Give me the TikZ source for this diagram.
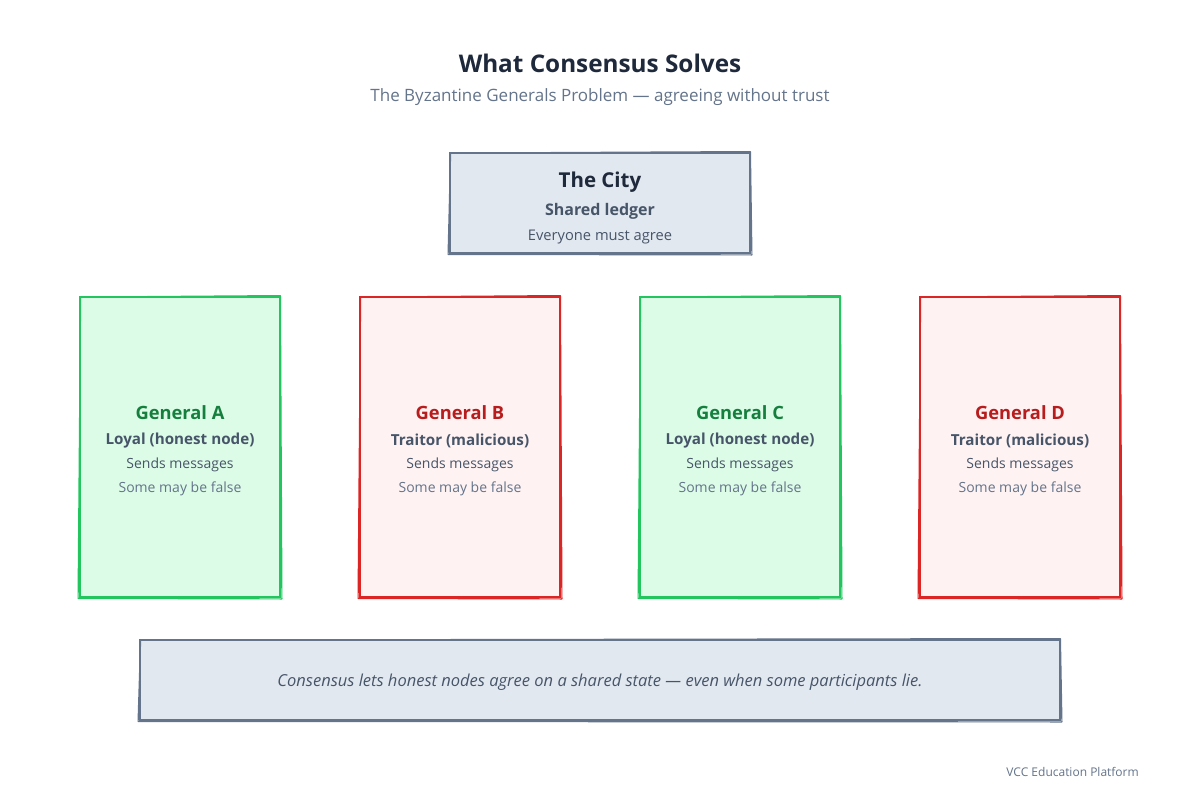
\documentclass[tikz,border=0pt]{standalone}
\usepackage{fontspec}
\setmainfont{Open Sans}
\definecolor{titlec}{HTML}{1E293B}
\definecolor{subc}{HTML}{64748B}
\definecolor{bodyc}{HTML}{475569}
\definecolor{slatefill}{HTML}{E2E8F0}
\definecolor{slatedraw}{HTML}{64748B}
\definecolor{gfill}{HTML}{DCFCE7}
\definecolor{gdraw}{HTML}{22C55E}
\definecolor{gtext}{HTML}{15803D}
\definecolor{rfill}{HTML}{FEF2F2}
\definecolor{rdraw}{HTML}{DC2626}
\definecolor{rtext}{HTML}{B91C1C}
\newcommand{\fs}[1]{\fontsize{#1}{#1}\selectfont}
\newcommand{\roughline}[2]{%
  \draw[#2, line width=1.2pt, line cap=round, line join=round]
    ([shift={(1.5,1)}]#1.north west) -- ([shift={(-0.5,-0.5)}]#1.north east)
    -- ([shift={(1,1)}]#1.south east) -- ([shift={(-1,0.5)}]#1.south west) -- cycle;}
\tikzset{
  box/.style={rectangle, draw, line width=1.8pt, inner sep=0pt},
  citybox/.style={box, fill=slatefill, draw=slatedraw, minimum width=300pt, minimum height=100pt},
  gbox/.style={box, fill=gfill, draw=gdraw, minimum width=200pt, minimum height=300pt},
  rbox/.style={box, fill=rfill, draw=rdraw, minimum width=200pt, minimum height=300pt},
  notebox/.style={box, fill=slatefill, draw=slatedraw, minimum width=920pt, minimum height=80pt},
  txt/.style={inner sep=0pt, anchor=center},
}
\begin{document}
\begin{tikzpicture}[x=1pt,y=-1pt]
\useasboundingbox[fill=white] (0,0) rectangle (1200,800);
\node[txt, text=titlec] (title) at (600,63) {\fs{24.3}\bfseries What Consensus Solves};
\node[txt, text=subc] (subtitle) at (600,97) {\fs{17}The Byzantine Generals Problem — agreeing without trust};

\node[citybox] (city) at (600,203) {};
\roughline{city}{slatedraw}
\node[txt, text=titlec] (cityt) at (600,182) {\fs{20.5}\bfseries The City};
\node[txt, text=bodyc] (cityl) at (600,211) {\fs{16}\bfseries Shared ledger};
\node[txt, text=bodyc] (citys) at (600,237) {\fs{14.7}Everyone must agree};

\foreach \n/\x/\st/\tc/\dc/\role in {A/180/gbox/gtext/gdraw/Loyal (honest node),B/460/rbox/rtext/rdraw/Traitor (malicious),C/740/gbox/gtext/gdraw/Loyal (honest node),D/1020/rbox/rtext/rdraw/Traitor (malicious)}{
  \node[\st] (gen\n) at (\x,447) {};
  \roughline{gen\n}{\dc}
  \node[txt, text=\tc] (gen\n t) at (\x,413) {\fs{18.3}\bfseries General \n};
  \node[txt, text=bodyc] (gen\n r) at (\x,441) {\fs{15.2}\bfseries \role};
  \node[txt, text=bodyc] (gen\n s) at (\x,465) {\fs{14}Sends messages};
  \node[txt, text=subc] (gen\n f) at (\x,489) {\fs{14}Some may be false};
}

\node[notebox] (note) at (600,680) {};
\roughline{note}{slatedraw}
\node[txt, text=bodyc] (notet) at (600,682) {\fs{16.5}\itshape Consensus lets honest nodes agree on a shared state — even when some participants lie.};

\node[txt, anchor=east, text=subc] (footer) at (1139,772) {\fs{12}VCC Education Platform};
\end{tikzpicture}
\end{document}
